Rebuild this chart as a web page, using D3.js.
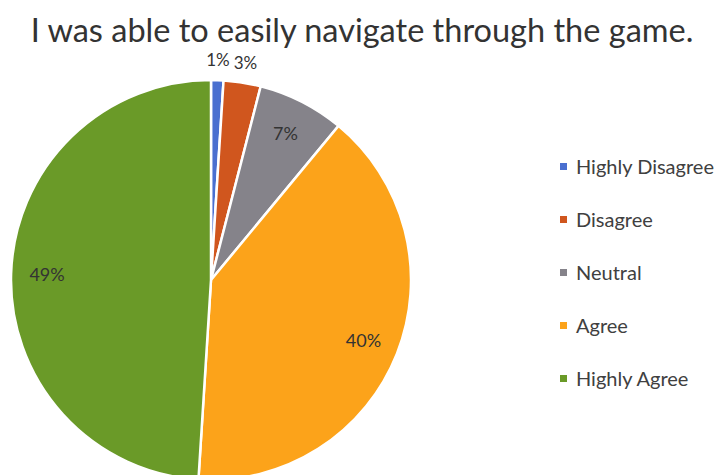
<!DOCTYPE html>
<html>
<head>
<meta charset="utf-8">
<script src="https://d3js.org/d3.v7.min.js"></script>
<style>
body { margin: 0; background: #fff; }
svg { display: block; font-family: "Lato", "Open Sans", sans-serif; }
</style>
</head>
<body>
<svg id="chart" width="723" height="475"></svg>
<script>
// survey answers
var categories = ["Highly Disagree", "Disagree", "Neutral", "Agree", "Highly Agree"];
var values = [1, 3, 7, 40, 49];
var labels = ["1%", "3%", "7%", "40%", "49%"];
var colors = ["#4a6fd0", "#d0561e", "#85838a", "#fca31a", "#6a9a28"];

var svg = d3.select("#chart");

// title
svg.append("text")
    .attr("x", 362)
    .attr("y", 42)
    .attr("text-anchor", "middle")
    .attr("font-size", "32.5px")
    .attr("fill", "#333")
    .text("I was able to easily navigate through the game.");

var radius = 200;
var g = svg.append("g")
    .attr("transform", "translate(211,280)");

var pie = d3.pie().sort(null);
var arc = d3.arc().innerRadius(0).outerRadius(radius);
var labelArc = d3.arc().innerRadius(radius * 0.82).outerRadius(radius * 0.82);
var outArc = d3.arc().innerRadius(radius + 20).outerRadius(radius + 20);

var arcs = g.selectAll("g.slice")
    .data(pie(values))
    .enter()
    .append("g")
    .attr("class", "slice");

arcs.append("path")
    .attr("fill", function(d, i) { return colors[i]; })
    .attr("stroke", "#fff")
    .attr("stroke-width", 2.5)
    .attr("d", arc);

// small slices get their label outside
arcs.append("text")
    .attr("transform", function(d) {
        var c = d.data < 5 ? outArc.centroid(d) : labelArc.centroid(d);
        return "translate(" + c + ")";
    })
    .attr("text-anchor", "middle")
    .attr("dy", "0.35em")
    .attr("font-size", function(d) { return d.data < 5 ? "17px" : "18px"; })
    .attr("fill", "#333")
    .text(function(d, i) { return labels[i]; });

// legend
var legend = svg.append("g")
    .attr("transform", "translate(560,167)");

var items = legend.selectAll("g")
    .data(categories)
    .enter()
    .append("g")
    .attr("transform", function(d, i) { return "translate(0," + (i * 53) + ")"; });

items.append("rect")
    .attr("x", 0)
    .attr("y", -4)
    .attr("width", 7)
    .attr("height", 7)
    .attr("fill", function(d, i) { return colors[i]; });

items.append("text")
    .attr("x", 16)
    .attr("y", 0)
    .attr("dy", "0.35em")
    .attr("font-size", "20px")
    .attr("fill", "#404040")
    .text(function(d) { return d; });
</script>
</body>
</html>
